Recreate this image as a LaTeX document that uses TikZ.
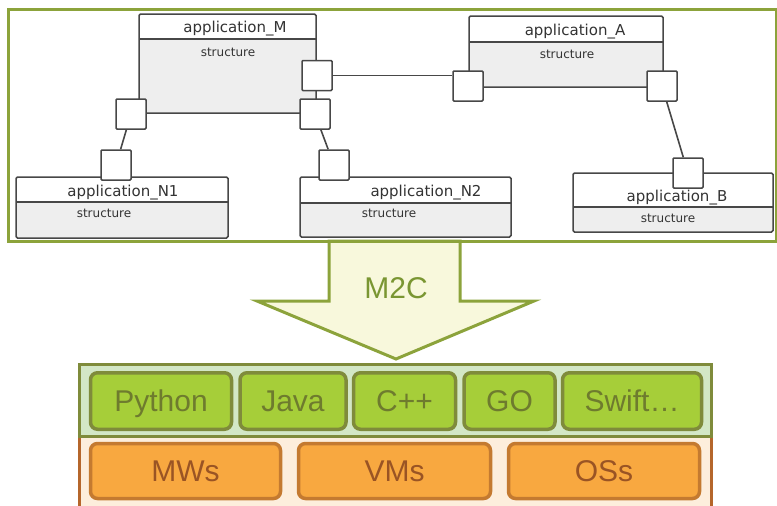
\documentclass[tikz,border=0pt]{standalone}
\usepackage{fontspec}
\setmainfont{Liberation Sans}
\newfontfamily\umlfont{DejaVu Sans}
\usetikzlibrary{positioning}
\definecolor{frameGreen}{HTML}{8CA33B}
\definecolor{arrowFill}{HTML}{F8F8DC}
\definecolor{arrowText}{HTML}{7A9632}
\definecolor{langFill}{HTML}{A6CE39}
\definecolor{langDraw}{HTML}{7F8B3B}
\definecolor{langText}{HTML}{6E7B2E}
\definecolor{langPanel}{HTML}{D3E7C6}
\definecolor{platFill}{HTML}{F8A840}
\definecolor{platDraw}{HTML}{C47A30}
\definecolor{platText}{HTML}{9A5424}
\definecolor{platPanel}{HTML}{FDEEDC}
\definecolor{platEdge}{HTML}{B5662B}
\definecolor{umlDraw}{HTML}{474747}
\definecolor{umlBody}{HTML}{EEEEEE}
\definecolor{umlText}{HTML}{333333}

\begin{document}
\begin{tikzpicture}[
  x=1pt, y=-1pt,
  frame/.style={draw=frameGreen, line width=3pt, inner sep=0pt},
  classbox/.style={draw=umlDraw, line width=1.5pt, fill=umlBody, rounded corners=1.5pt, inner sep=0pt,
    path picture={
      \fill[white] (path picture bounding box.north west) rectangle ([yshift=-#1]path picture bounding box.north east);
      \draw[umlDraw, line width=1.5pt] ([yshift=-#1]path picture bounding box.north west) -- ([yshift=-#1]path picture bounding box.north east);
    }},
  port/.style={draw=umlDraw, fill=white, line width=1.5pt, rounded corners=1pt, minimum size=30pt, inner sep=0pt},
  conn/.style={draw=umlDraw, line width=1.6pt},
  title/.style={font=\umlfont\fontsize{15}{18}\selectfont, text=umlText, inner sep=0pt},
  sub/.style={font=\umlfont\fontsize{12}{14}\selectfont, text=umlText, inner sep=0pt},
  m2carrow/.style={fill=arrowFill, draw=frameGreen, line width=3pt, line join=miter},
  bigtext/.style={font=\fontsize{30}{36}\selectfont, text height=21.5pt, text depth=0pt},
  panel/.style={line width=3pt, inner sep=0pt, minimum width=632pt},
  lang/.style={bigtext, draw=langDraw, fill=langFill, text=langText, line width=3.5pt, rounded corners=7pt,
    outer sep=0pt, minimum height=56.5pt},
  plat/.style={bigtext, draw=platDraw, fill=platFill, text=platText, line width=3.5pt, rounded corners=7pt,
    outer sep=0pt, minimum height=55pt}
]
\useasboundingbox (0,0) rectangle (777,506);

\path[m2carrow] (329,241) -- (329,301) -- (257,301) -- (396,359) -- (534,301) -- (460,301) -- (460,241) -- cycle;
\node[bigtext, text=arrowText] (m2c) at (396,288) {M2C};

\node[frame, minimum width=768pt, minimum height=232pt] (model) at (392,125) {};

\node[classbox=25pt, minimum width=177pt, minimum height=99pt] (appM) at (227.5,63.5) {};
\node[classbox=26pt, minimum width=194pt, minimum height=71pt] (appA) at (566,51.5) {};
\node[classbox=25pt, minimum width=212pt, minimum height=61pt] (appN1) at (122,207.5) {};
\node[classbox=26pt, minimum width=211pt, minimum height=60pt] (appN2) at (405.5,207) {};
\node[classbox=34pt, minimum width=200pt, minimum height=59pt] (appB) at (673,202.5) {};

\node[title] (tM) at (235,29) {application\_M};
\node[sub] (sM) at (228,52) {structure};
\node[title] (tA) at (575,32) {application\_A};
\node[sub] (sA) at (567,54) {structure};
\node[title] (tN1) at (123,193) {application\_N1};
\node[sub] (sN1) at (104,213) {structure};
\node[title] (tN2) at (426,193) {application\_N2};
\node[sub] (sN2) at (389,213) {structure};
\node[title] (tB) at (677,198) {application\_B};
\node[sub] (sB) at (668,218) {structure};

\node[port] (pM1) at (317,75.5) {};
\node[port] (pM2) at (315,114) {};
\node[port] (pM3) at (131,114) {};
\node[port] (pN1) at (116,165) {};
\node[port] (pN2) at (334,165) {};
\node[port] (pA1) at (468,86) {};
\node[port] (pA2) at (662,86) {};
\node[port] (pB) at (688,173) {};

\draw[conn] (pM1.east) -- (pM1.east -| pA1.west);
\draw[conn] (pM3) -- (pN1);
\draw[conn] (pM2) -- (pN2);
\draw[conn] (pA2) -- (pB);

\node[panel, draw=platEdge, fill=platPanel, minimum height=76pt] (platforms) at (395,474) {};
\node[panel, draw=langDraw, fill=langPanel, minimum height=72pt] (languages) at (395,400) {};

\node[lang, minimum width=141pt] (python) at (161,401) {Python};
\node[lang, minimum width=106pt, right=8.5pt of python] (java) {Java};
\node[lang, minimum width=102pt, right=7.5pt of java] (cpp) {C++};
\node[lang, minimum width=91pt, right=8.5pt of cpp] (go) {GO};
\node[lang, minimum width=139pt, right=7.5pt of go] (swift) {Swift…};

\node[plat, minimum width=190pt] (mws) at (185.5,471) {MWs};
\node[plat, minimum width=192pt, right=18pt of mws] (vms) {VMs};
\node[plat, minimum width=191pt, right=18pt of vms] (oss) {OSs};
\end{tikzpicture}
\end{document}
